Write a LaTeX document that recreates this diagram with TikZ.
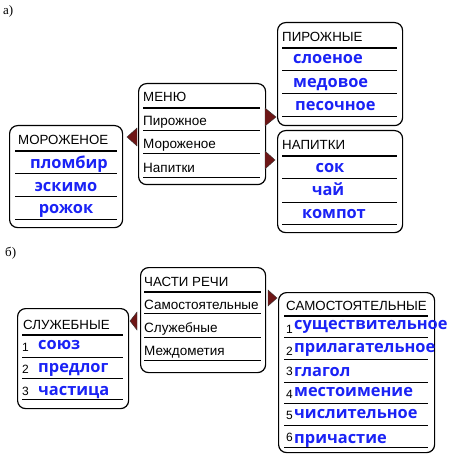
\documentclass[tikz,border=0pt]{standalone}
\usepackage{fontspec}
\setmainfont{Liberation Sans}
\newfontfamily\bluefont{Open Sans}
\newfontfamily\labfont{Liberation Serif}
\definecolor{tri}{HTML}{6E1616}
\definecolor{bluet}{HTML}{1A22F5}
\begin{document}
\begin{tikzpicture}[x=1pt,y=-1pt,
  box/.style={draw, line width=1.2pt, rounded corners=8pt, anchor=north west, inner sep=0pt},
  thickline/.style={line width=2.4pt},
  thinline/.style={line width=0.9pt},
  hdr/.style={anchor=base west, inner sep=0pt, font=\fontsize{13.3}{15}\selectfont},
  item/.style={anchor=base west, inner sep=0pt, font=\fontsize{13.5}{15}\selectfont},
  num/.style={anchor=base west, inner sep=0pt, font=\fontsize{12}{14}\selectfont},
  blue/.style={inner sep=0pt, text=bluet, font=\bluefont\bfseries\fontsize{16.4}{18}\selectfont},
  bl/.style={blue, anchor=base west},
  bc/.style={blue, anchor=base},
  marker/.style={fill=tri, draw=black!80, line width=0.4pt},
  lab/.style={anchor=base west, inner sep=0pt, font=\labfont\fontsize{13}{15}\selectfont}
]
\useasboundingbox (0,0) rectangle (450,462);

\node[lab] (la) at (3,15) {а)};
\node[lab] (lb) at (5,256) {б)};

% ---------- МЕНЮ
\node[box, minimum width=127pt, minimum height=101pt] (menu) at (138,83) {};
\draw[thickline] (143,108) -- (260,108);
\foreach \y in {130,153,177} \draw[thinline] (143,\y) -- (260,\y);
\node[hdr] (menuh) at (143,102) {МЕНЮ};
\node[item] (m1) at (143,126) {Пирожное};
\node[item] (m2) at (143,149) {Мороженое};
\node[item] (m3) at (143,173) {Напитки};
\draw[marker] (137,128) -- (137,146) -- (127,137) -- cycle;
\draw[marker] (265,108) -- (265,126) -- (276,117) -- cycle;
\draw[marker] (265,151) -- (265,169) -- (275,160) -- cycle;

% ---------- ПИРОЖНЫЕ
\node[box, minimum width=125pt, minimum height=103pt] (pir) at (277,22) {};
\draw[thickline] (282,48) -- (397,48);
\foreach \y in {70,93,116} \draw[thinline] (282,\y) -- (397,\y);
\node[hdr] (pirh) at (282,42) {ПИРОЖНЫЕ};
\node[bl] (p1) at (293,64) {слоеное};
\node[bl] (p2) at (293,88) {медовое};
\node[bl] (p3) at (295,111) {песочное};

% ---------- НАПИТКИ
\node[box, minimum width=125pt, minimum height=102pt] (nap) at (277,130) {};
\draw[thickline] (282,156) -- (397,156);
\foreach \y in {178,202,224} \draw[thinline] (282,\y) -- (397,\y);
\node[hdr] (naph) at (282,150) {НАПИТКИ};
\node[bc] (n1) at (330,173) {сок};
\node[bc] (n2) at (328,196) {чай};
\node[bc] (n3) at (334,218) {компот};

% ---------- МОРОЖЕНОЕ
\node[box, minimum width=113pt, minimum height=102pt] (mor) at (9,125) {};
\draw[thickline] (15,151) -- (117,151);
\foreach \y in {173,196,219} \draw[thinline] (15,\y) -- (117,\y);
\node[hdr] (morh) at (18,145) {МОРОЖЕНОЕ};
\node[bc] (o1) at (69,168) {пломбир};
\node[bc] (o2) at (66,191) {эскимо};
\node[bc] (o3) at (66,213) {рожок};

% ---------- ЧАСТИ РЕЧИ
\node[box, minimum width=125pt, minimum height=105pt] (ch) at (140,267) {};
\draw[thickline] (144,292) -- (261,292);
\foreach \y in {313,337,360} \draw[thinline] (144,\y) -- (261,\y);
\node[hdr] (chh) at (144,286) {ЧАСТИ РЕЧИ};
\node[item] (c1) at (144,309) {Самостоятельные};
\node[item] (c2) at (144,332) {Служебные};
\node[item] (c3) at (144,355) {Междометия};
\draw[marker] (137,312) -- (137,330) -- (130,321) -- cycle;
\draw[marker] (268,290) -- (268,306) -- (277,298) -- cycle;

% ---------- СЛУЖЕБНЫЕ
\node[box, minimum width=111pt, minimum height=100pt] (sl) at (17,308) {};
\draw[thickline] (22,335) -- (123,335);
\foreach \y in {357,378,399} \draw[thinline] (22,\y) -- (123,\y);
\node[hdr] (slh) at (23,329) {СЛУЖЕБНЫЕ};
\node[num] (s1n) at (22,351) {1};
\node[num] (s2n) at (22,373) {2};
\node[num] (s3n) at (22,395) {3};
\node[bl] (s1) at (38,349) {союз};
\node[bl] (s2) at (38,372) {предлог};
\node[bl] (s3) at (38,395) {частица};

% ---------- САМОСТОЯТЕЛЬНЫЕ
\node[box, minimum width=156pt, minimum height=160pt] (sam) at (278,292) {};
\draw[thickline] (284,316) -- (428,316);
\foreach \y in {337,359,382,403,425,447} \draw[thinline] (284,\y) -- (428,\y);
\node[hdr] (samh) at (286,310) {САМОСТОЯТЕЛЬНЫЕ};
\node[num] (t1n) at (286,333) {1};
\node[num] (t2n) at (286,355) {2};
\node[num] (t3n) at (286,375) {3};
\node[num] (t4n) at (286,398) {4};
\node[num] (t5n) at (286,419) {5};
\node[num] (t6n) at (286,441) {6};
\node[bl] (t1) at (294,329) {существительное};
\node[bl] (t2) at (294,352) {прилагательное};
\node[bl] (t3) at (294,376) {глагол};
\node[bl] (t4) at (294,396) {местоимение};
\node[bl] (t5) at (294,418) {числительное};
\node[bl] (t6) at (294,443) {причастие};
\end{tikzpicture}
\end{document}
